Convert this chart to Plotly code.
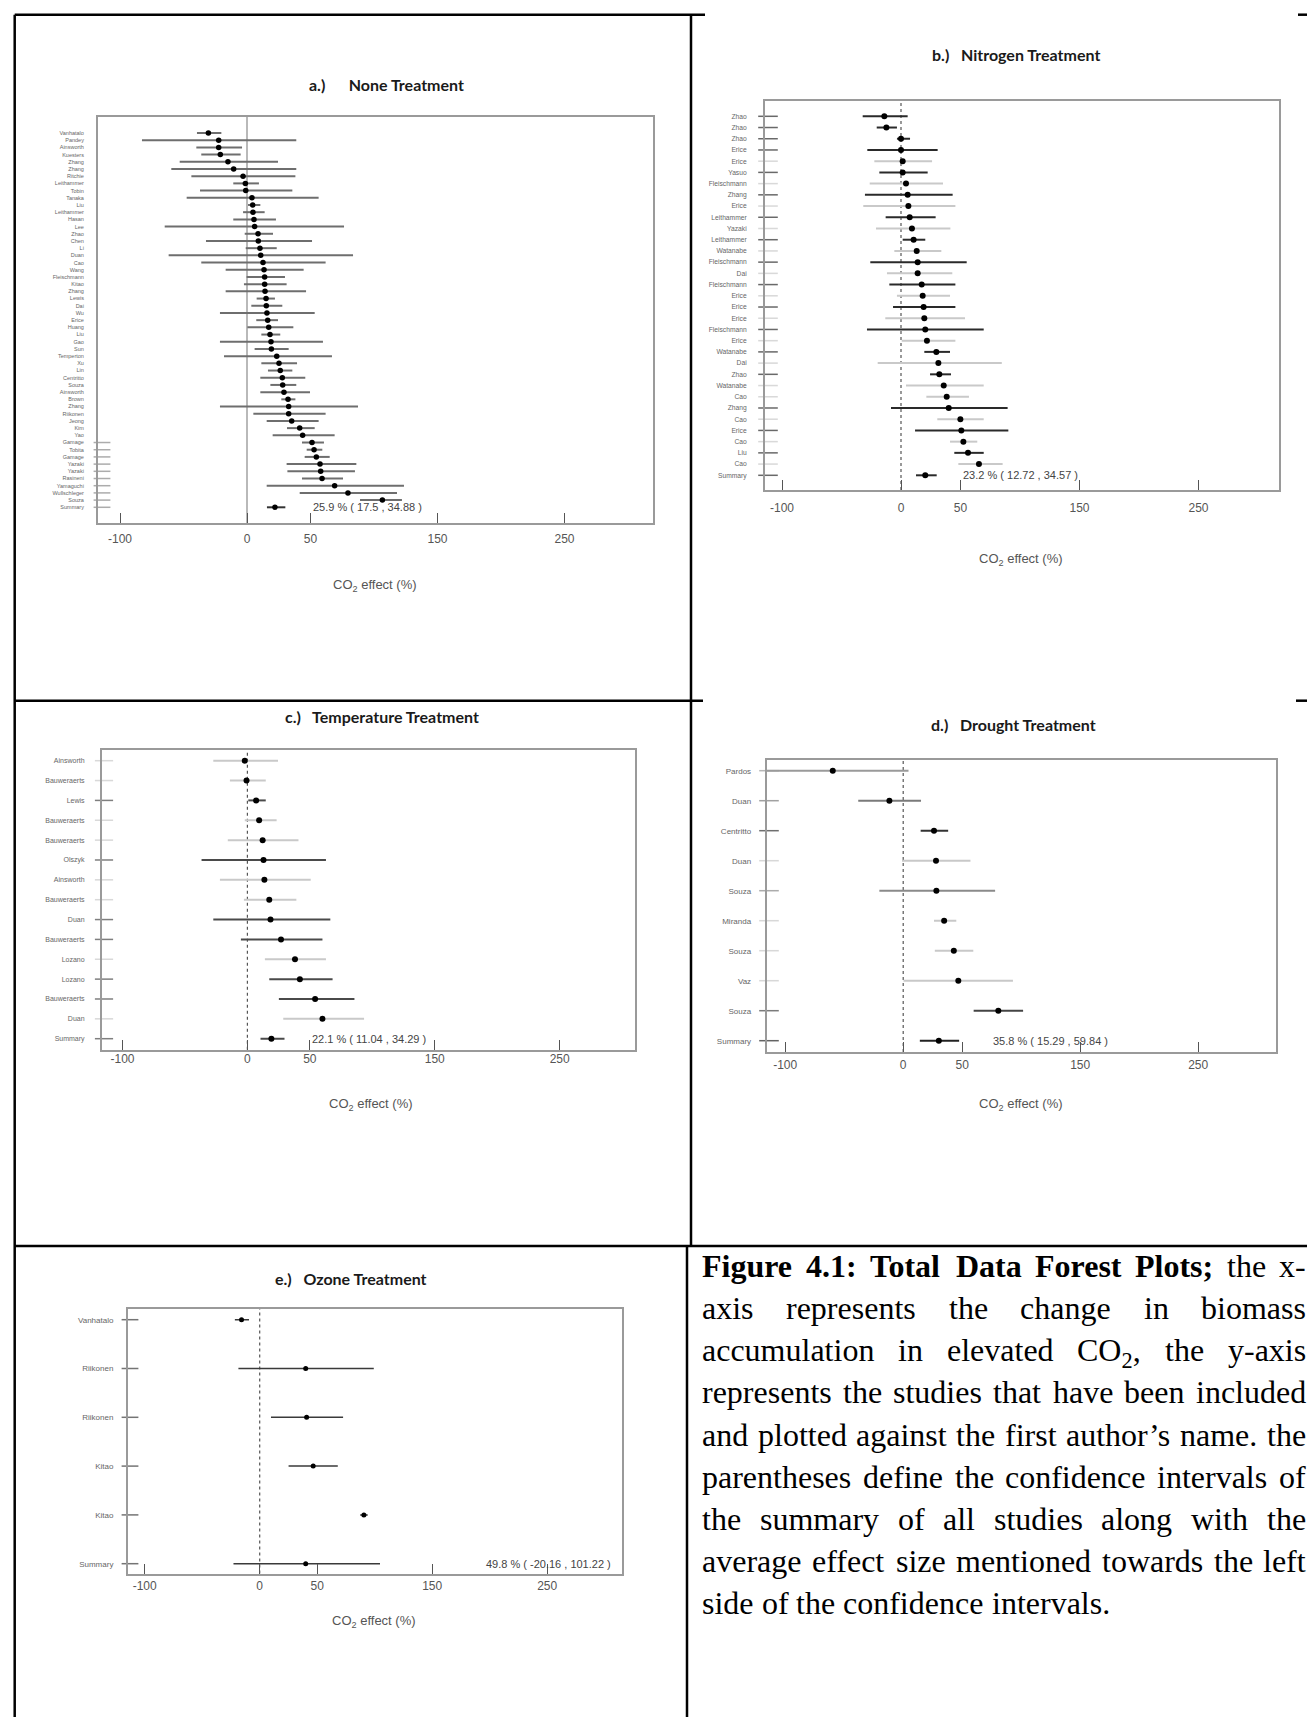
import plotly.graph_objects as go

W, H = 1315, 1717

# ---------------- data ----------------
tick_vals = [-100, 0, 50, 150, 250]
tick_text = ["-100", "0", "50", "150", "250"]
x_title = "CO<sub>2</sub> effect (%)"

# a.) None treatment
a_title = "a.)" + "\u00a0" * 6 + "None Treatment"
a_labels = ["Vanhatalo", "Pandey", "Ainsworth", "Kuesters", "Zhang", "Zhang", "Ritchie", "Leithammer", "Tobin", "Tanaka",
            "Liu", "Leithammer", "Hasan", "Lee", "Zhao", "Chen", "Li", "Duan", "Cao", "Wang",
            "Fleischmann", "Kitao", "Zhang", "Lewis", "Dai", "Wu", "Erice", "Huang", "Liu", "Gao",
            "Sun", "Temperton", "Xu", "Lin", "Centritto", "Souza", "Ainsworth", "Brown", "Zhang", "Riikonen",
            "Jeong", "Kim", "Yao", "Gamage", "Tobita", "Gamage", "Yazaki", "Yazaki", "Rasineni", "Yamaguchi",
            "Wullschleger", "Souza", "Summary"]
a_est = [-30.4, -22.3, -22.3, -21.0, -15.0, -10.5, -3.1, -1.3, -1.0, 3.9,
         4.5, 4.7, 5.5, 6.0, 8.7, 8.9, 10.2, 10.8, 12.6, 13.4,
         13.9, 13.9, 14.2, 15.0, 15.2, 15.7, 16.3, 17.1, 18.1, 18.9,
         19.2, 23.4, 25.2, 26.2, 27.8, 28.1, 29.1, 32.3, 32.8, 32.8,
         35.2, 41.5, 43.8, 51.2, 52.8, 54.6, 57.5, 58.0, 59.1, 69.0,
         79.5, 106.6, 22.0]
a_lo = [-39.4, -82.7, -39.9, -36.0, -53.0, -59.6, -43.8, -10.8, -37.0, -47.5,
        0.8, -3.1, -10.8, -64.8, -1.8, -32.3, -1.0, -61.7, -36.0, -16.8,
        -0.3, -2.4, -16.8, 7.6, 3.4, -21.3, 7.3, 0.3, 11.3, -21.3,
        6.0, -18.1, 11.3, 16.5, 10.5, 18.4, 10.5, 27.0, -21.3, 5.0,
        15.5, 31.5, 20.2, 43.3, 47.0, 45.4, 31.2, 31.8, 43.3, 15.5,
        41.5, 89.0, 15.7]
a_hi = [-20.2, 38.8, -3.9, -5.0, 24.4, 38.8, 38.1, 9.4, 35.7, 56.4,
        10.5, 13.9, 22.8, 76.4, 20.5, 51.2, 23.4, 83.5, 61.9, 44.6,
        29.9, 31.2, 46.5, 22.0, 27.8, 53.3, 24.4, 36.5, 26.2, 59.8,
        32.8, 66.9, 39.4, 35.7, 45.9, 38.8, 49.6, 38.1, 87.4, 61.9,
        56.4, 53.3, 69.0, 60.6, 59.3, 65.1, 86.1, 85.0, 75.6, 123.6,
        118.1, 122.0, 30.2]
a_summary = "25.9 % ( 17.5 , 34.88 )"

# b.) Nitrogen treatment
b_title = "b.)" + "\u00a0" * 3 + "Nitrogen Treatment"
b_labels = ["Zhao", "Zhao", "Zhao", "Erice", "Erice", "Yasuo", "Fleischmann", "Zhang", "Erice", "Leithammer",
            "Yazaki", "Leithammer", "Watanabe", "Fleischmann", "Dai", "Fleischmann", "Erice", "Erice", "Erice",
            "Fleischmann", "Erice", "Watanabe", "Dai", "Zhao", "Watanabe", "Cao", "Zhang", "Cao", "Erice",
            "Cao", "Liu", "Cao", "Summary"]
b_est = [-14.0, -12.3, 0.0, 0.0, 1.4, 1.4, 4.2, 5.6, 6.2, 7.3,
         9.2, 10.6, 13.2, 14.0, 14.0, 17.4, 18.2, 19.0, 19.6, 20.4,
         21.8, 29.7, 31.4, 32.2, 35.9, 38.4, 40.1, 49.9, 50.7, 52.4,
         56.3, 65.5, 20.4]
b_lo = [-32.2, -20.4, -3.4, -28.3, -22.4, -18.2, -26.3, -30.3, -31.7, -12.9,
        -21.0, 1.4, -5.6, -25.8, -11.8, -9.8, -3.4, -6.7, -13.2, -28.6,
        0.6, 19.6, -19.6, 24.4, 4.2, 21.3, -8.4, 30.5, 11.8, 41.2,
        44.8, 48.2, 12.6]
b_hi = [5.6, -3.4, 7.6, 30.8, 26.1, 22.4, 35.3, 43.4, 45.7, 29.1,
        41.5, 20.4, 33.9, 55.2, 43.1, 45.7, 41.2, 45.7, 53.8, 69.5,
        45.7, 41.2, 84.7, 42.0, 69.5, 57.1, 89.6, 69.5, 90.2, 64.1,
        69.5, 85.4, 30.0]
b_summary = "23.2 % ( 12.72 , 34.57 )"

# c.) Temperature treatment
c_title = "c.)" + "\u00a0" * 3 + "Temperature Treatment"
c_labels = ["Ainsworth", "Bauweraerts", "Lewis", "Bauweraerts", "Bauweraerts", "Olszyk", "Ainsworth",
            "Bauweraerts", "Duan", "Bauweraerts", "Lozano", "Lozano", "Bauweraerts", "Duan", "Summary"]
c_est = [-2.1, -0.7, 7.0, 9.4, 12.2, 12.9, 13.6, 17.5, 18.5, 26.9, 38.1, 42.0, 54.2, 60.1, 19.2]
c_lo = [-27.3, -14.0, 0.7, -2.1, -15.7, -36.7, -22.0, -2.8, -27.3, -5.2, 14.0, 17.5, 25.2, 28.7, 10.5]
c_hi = [24.5, 14.7, 14.7, 23.4, 40.9, 62.9, 50.7, 39.2, 66.4, 60.1, 62.9, 68.2, 85.7, 93.4, 29.7]
c_summary = "22.1 % ( 11.04 , 34.29 )"

# d.) Drought treatment
d_title = "d.)" + "\u00a0" * 3 + "Drought Treatment"
d_labels = ["Pardos", "Duan", "Centritto", "Duan", "Souza", "Miranda", "Souza", "Vaz", "Souza", "Summary"]
d_est = [-59.7, -11.7, 26.1, 27.8, 28.1, 34.7, 42.9, 46.7, 80.6, 30.2]
d_lo = [-130.0, -38.1, 14.8, -1.0, -20.2, 26.1, 26.8, 0.3, 59.7, 14.1]
d_hi = [4.5, 15.1, 38.1, 57.0, 77.9, 45.0, 59.4, 93.0, 101.6, 47.4]
d_summary = "35.8 % ( 15.29 , 59.84 )"

# e.) Ozone treatment
e_title = "e.)" + "\u00a0" * 3 + "Ozone Treatment"
e_labels = ["Vanhatalo", "Riikonen", "Riikonen", "Kitao", "Kitao", "Summary"]
e_est = [-15.8, 40.0, 40.8, 46.5, 90.6, 40.0]
e_lo = [-21.6, -18.5, 9.8, 25.1, 87.4, -22.8]
e_hi = [-9.3, 99.2, 72.5, 67.9, 93.9, 104.6]
e_summary = "49.8 % ( -20.16 , 101.22 )"

caption_lines = [
    "<b>Figure 4.1: Total Data Forest Plots;</b> the x-",
    "axis represents the change in biomass",
    "accumulation in elevated CO<sub>2</sub>, the y-axis",
    "represents the studies that have been included",
    "and plotted against the first author\u2019s name. the",
    "parentheses define the confidence intervals of",
    "the summary of all studies along with the",
    "average effect size mentioned towards the left",
    "side of the confidence intervals.",
]

panels = [
    dict(title=a_title, labels=a_labels, est=a_est, lo=a_lo, hi=a_hi, summary=a_summary),
    dict(title=b_title, labels=b_labels, est=b_est, lo=b_lo, hi=b_hi, summary=b_summary),
    dict(title=c_title, labels=c_labels, est=c_est, lo=c_lo, hi=c_hi, summary=c_summary),
    dict(title=d_title, labels=d_labels, est=d_est, lo=d_lo, hi=d_hi, summary=d_summary),
    dict(title=e_title, labels=e_labels, est=e_est, lo=e_lo, hi=e_hi, summary=e_summary),
]

# ---------------- styles / layout (pixel geometry) ----------------
DARK, LIGHT, MID = "#2a2a2a", "#c9c9c9", "#4a4a4a"
b_dark = {1, 2, 3, 4, 6, 8, 10, 12, 14, 16, 18, 20, 22, 24, 27, 29, 31, 33}
c_dark = {3, 6, 9, 10, 12, 13, 15}

STYLE = [
    dict(box=(90, 109, 645, 515), zero=239.0, ppu=1.27, first=125.0, last=499.3,
         title=(378, 77), xlab=(367, 577), tick_so=4, lab_size=5.5, lab_gap=8.3,
         dash_off=-2.5, dash_len=6, sum_x=50, lw=2.0, dot=5.5, zdash="solid", zcol="#a8a8a8",
         colors=["#6e6e6e"] * 52 + ["#333333"], dash_col="#8a8a8a"),
    dict(box=(757, 93, 1271, 482), zero=893.0, ppu=1.19, first=108.3, last=467.3,
         title=(1008, 47), xlab=(1013, 552), tick_so=6, lab_size=6.7, lab_gap=12,
         dash_off=3, dash_len=14, sum_x=50, lw=2.0, dot=6, zdash="dot", zcol="#555555",
         colors=[DARK if i in b_dark else LIGHT for i in range(1, 34)], dash_col=None),
    dict(box=(94, 741.7, 627, 1041.7), zero=239.4, ppu=1.249, first=752.7, last=1030.7,
         title=(374, 708), xlab=(362.6, 1096), tick_so=-3, lab_size=7, lab_gap=11,
         dash_off=2, dash_len=13, sum_x=50, lw=2.0, dot=6, zdash="dot", zcol="#555555",
         colors=[MID if i in c_dark else LIGHT for i in range(1, 16)], dash_col=None),
    dict(box=(758.7, 751.7, 1268.2, 1044), zero=895.2, ppu=1.18, first=762.7, last=1032.7,
         title=(1005, 716), xlab=(1013, 1096), tick_so=1, lab_size=8, lab_gap=8.7,
         dash_off=2.3, dash_len=14, sum_x=74, lw=2.0, dot=6, zdash="dot", zcol="#555555",
         colors=["#9a9a9a", "#7a7a7a", "#333333", "#c8c8c8", "#8a8a8a", "#c8c8c8", "#c8c8c8",
                 "#c8c8c8", "#444444", "#222222"], dash_col=None),
    dict(box=(120, 1300.7, 614, 1565.5), zero=251.7, ppu=1.15, first=1311.7, last=1555.7,
         title=(343, 1270), xlab=(365.8, 1613.6), tick_so=0, lab_size=8, lab_gap=8.3,
         dash_off=2, dash_len=12, sum_x=195, lw=1.5, dot=5, zdash="dot", zcol="#555555",
         colors=["#3a3a3a"] * 6, dash_col=None),
]

NARROW = "Liberation Sans, Arial, sans-serif"
TITLE_FONT = "Lato, Open Sans, sans-serif"


def px(x):
    return x / W


def py(y):
    return 1 - y / H


fig = go.Figure()
axes = {}
annotations = []
shapes = []

for k, (P, S) in enumerate(zip(panels, STYLE), start=1):
    n = len(P["labels"])
    rows = list(range(1, n + 1))
    x0, y0, x1, y1 = S["box"]
    xr = [(x0 - S["zero"]) / S["ppu"], (x1 - S["zero"]) / S["ppu"]]
    sp = (S["last"] - S["first"]) / (n - 1)
    yr = [n + (y1 - S["last"]) / sp, 1 - (S["first"] - y0) / sp]
    xa = "x" if k == 1 else f"x{k}"
    ya = "y" if k == 1 else f"y{k}"
    axes["xaxis" if k == 1 else f"xaxis{k}"] = dict(
        domain=[px(x0), px(x1)], range=xr, anchor=ya, showline=True, mirror=True,
        linecolor="#9a9a9a", linewidth=2, ticks="inside", ticklen=10, tickwidth=1.3,
        tickcolor="#555555", tickvals=tick_vals, ticktext=tick_text,
        tickfont=dict(family=NARROW, size=12, color="#555555"),
        ticklabelstandoff=S["tick_so"],
        showgrid=False, zeroline=False, fixedrange=True)
    axes["yaxis" if k == 1 else f"yaxis{k}"] = dict(
        domain=[py(y1), py(y0)], range=yr, anchor=xa, showline=True, mirror=True,
        linecolor="#9a9a9a", linewidth=2, ticks="", tickvals=rows, ticktext=P["labels"],
        tickfont=dict(family=NARROW, size=S["lab_size"], color="#666666"),
        ticklabelstandoff=int(round(S["lab_gap"] + 3)),
        showgrid=False, zeroline=False, fixedrange=True)

    # zero reference line
    shapes.append(dict(type="line", xref=xa, yref=f"{ya} domain", x0=0, x1=0, y0=0, y1=1,
                       line=dict(color=S["zcol"], width=1.2 if S["zdash"] == "dot" else 1.6,
                                 dash=S["zdash"]), layer="below"))

    # confidence-interval lines grouped by colour
    colors = S["colors"]
    for col in dict.fromkeys(colors):
        xs, ys = [], []
        for i in range(n):
            if colors[i] == col:
                xs += [P["lo"][i], P["hi"][i], None]
                ys += [rows[i], rows[i], None]
        fig.add_trace(go.Scatter(x=xs, y=ys, mode="lines", line=dict(color=col, width=S["lw"]),
                                 xaxis=xa, yaxis=ya, hoverinfo="skip", showlegend=False))

    # point estimates
    fig.add_trace(go.Scatter(x=P["est"], y=rows, mode="markers",
                             marker=dict(color="black", size=S["dot"]),
                             xaxis=xa, yaxis=ya, showlegend=False,
                             text=P["labels"], hovertemplate="%{text}: %{x}%<extra></extra>"))

    # little row tick dashes on the left border
    offs, lens = [], []
    for r in rows:
        if k == 1 and r >= 44:
            offs.append(xr[0] + 4 / S["ppu"])
            lens.append(12)
        else:
            offs.append(xr[0] + S["dash_off"] / S["ppu"])
            lens.append(S["dash_len"])
    dcol = [S["dash_col"]] * n if S["dash_col"] else colors
    fig.add_trace(go.Scatter(x=offs, y=rows, mode="markers", cliponaxis=False,
                             marker=dict(symbol="line-ew", size=lens,
                                         line=dict(color=dcol, width=1.5)),
                             xaxis=xa, yaxis=ya, hoverinfo="skip", showlegend=False))

    # summary text
    annotations.append(dict(xref=xa, yref=ya, x=S["sum_x"], y=n, text=P["summary"],
                            showarrow=False, xanchor="left", yanchor="middle",
                            font=dict(family=NARROW, size=11, color="#444444")))
    # panel title
    annotations.append(dict(xref="paper", yref="paper", x=px(S["title"][0]), y=py(S["title"][1]),
                            text="<b>" + P["title"] + "</b>", showarrow=False,
                            xanchor="center", yanchor="middle",
                            font=dict(family=TITLE_FONT, size=16, color="#1a1a1a")))
    # x-axis title
    annotations.append(dict(xref="paper", yref="paper", x=px(S["xlab"][0]), y=py(S["xlab"][1]),
                            text=x_title, showarrow=False, xanchor="center", yanchor="middle",
                            font=dict(family=NARROW, size=13, color="#555555")))

# ---------------- table borders ----------------
TL = dict(color="black", width=2.5)
L, R, T, MIDX, MIDX2, ROW1, ROW2 = 6.7, 1312, 6.7, 683, 679, 692.7, 1238
segs = [
    (L, T, L, H), (R, T, R, H),
    (L, T, 697, T), (1290, T, R, T),
    (MIDX, T, MIDX, ROW2), (MIDX2, ROW2, MIDX2, H),
    (L, ROW1, 695, ROW1), (1288, ROW1, R, ROW1),
    (L, ROW2, R, ROW2),
]
for (xa0, ya0, xa1, ya1) in segs:
    shapes.append(dict(type="line", xref="paper", yref="paper", x0=px(xa0), y0=py(ya0),
                       x1=px(xa1), y1=py(ya1), line=TL, layer="above"))

# ---------------- caption (justified, Times metrics) ----------------
CAP_SIZE = 32
CAP_LEFT, CAP_RIGHT = 693, 1297
CAP_BASE0, CAP_STEP = 1268.3, 42.2
REG = dict(zip("abcdefghijklmnopqrstuvwxyz",
               [444, 500, 444, 500, 444, 333, 500, 500, 278, 278, 500, 278, 778, 500, 500, 500, 500,
                333, 389, 278, 500, 500, 722, 500, 500, 444]))
REG.update({"C": 667, "O": 722, "-": 333, ".": 250, ",": 250, "\u2019": 333, "2": 500})
BOLD = dict(zip("abcdefghijklmnopqrstuvwxyz",
                [500, 556, 444, 556, 444, 333, 500, 556, 278, 333, 556, 278, 833, 556, 500, 556, 556,
                 444, 389, 333, 556, 500, 722, 500, 500, 444]))
BOLD.update({"F": 611, "T": 667, "D": 722, "P": 611, "4": 500, "1": 500, ".": 250, ":": 333, ";": 333})


def word_width(word, bold):
    tbl = BOLD if bold else REG
    s = word.replace("<sub>", "\x01").replace("</sub>", "\x02")
    w, scale = 0.0, 1.0
    for ch in s:
        if ch == "\x01":
            scale = 0.7
        elif ch == "\x02":
            scale = 1.0
        else:
            w += tbl.get(ch, 500) * scale
    return w * CAP_SIZE / 1000.0


for li, line in enumerate(caption_lines):
    words = []
    bold = False
    for tok in line.split(" "):
        if tok.startswith("<b>"):
            bold = True
            tok = tok[3:]
        end_bold = tok.endswith("</b>")
        if end_bold:
            tok = tok[:-4]
        words.append((tok, bold))
        if end_bold:
            bold = False
    widths = [word_width(w, b) for w, b in words]
    if li < len(caption_lines) - 1 and len(words) > 1:
        gap = (CAP_RIGHT - CAP_LEFT - sum(widths)) / (len(words) - 1)
    else:
        gap = 250 * CAP_SIZE / 1000.0
    xcur = CAP_LEFT
    top = CAP_BASE0 + li * CAP_STEP - 29.5
    for (w, b), wd in zip(words, widths):
        annotations.append(dict(xref="paper", yref="paper", x=px(xcur), y=py(top),
                                text=("<b>" + w + "</b>") if b else w, showarrow=False,
                                xanchor="left", yanchor="top", borderpad=0,
                                font=dict(family="Liberation Serif, Times New Roman, serif",
                                          size=CAP_SIZE, color="black")))
        xcur += wd + gap

fig.update_layout(width=W, height=H, margin=dict(l=0, r=0, t=0, b=0),
                  paper_bgcolor="white", plot_bgcolor="white", showlegend=False,
                  annotations=annotations, shapes=shapes, **axes)

fig.write_html("out.html")
